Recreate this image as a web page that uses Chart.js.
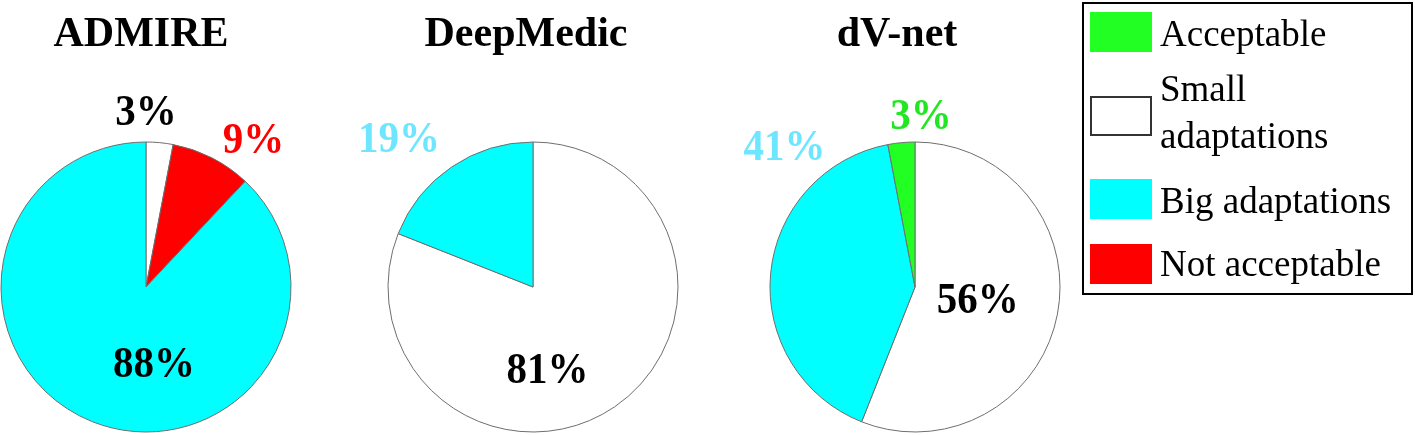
<!DOCTYPE html>
<html>
<head>
<meta charset="utf-8">
<script src="https://cdn.jsdelivr.net/npm/chart.js@4.4.1/dist/chart.umd.min.js"></script>
<style>
  html, body { margin: 0; padding: 0; background: #fff; }
  body { width: 1415px; height: 435px; position: relative; overflow: hidden; font-family: 'Liberation Serif', 'Times New Roman', serif; }
  .panel { position: absolute; top: 0; height: 435px; }
  .legend { position: absolute; left: 1082px; top: 2px; width: 327px; height: 289px; border: 2px solid #000; }
  .sw { position: absolute; left: 6px; width: 62px; height: 40px; }
  .lt { position: absolute; left: 76px; font-size: 37px; line-height: 37px; color: #000; white-space: nowrap; transform: scaleY(1.05); transform-origin: 0 0; }
</style>
</head>
<body>
<div class="panel" style="left:0;width:292px"><canvas id="chartAdmire"></canvas></div>
<div class="panel" style="left:353px;width:360px"><canvas id="chartDeepMedic"></canvas></div>
<div class="panel" style="left:735px;width:360px"><canvas id="chartDvNet"></canvas></div>
<div class="legend" id="legend"></div>

<script>
// Categorias (ordem horária a partir do topo)
const categories = ['Small adaptations', 'Not acceptable', 'Big adaptations', 'Acceptable'];
const legendOrder = ['Acceptable', 'Small adaptations', 'Big adaptations', 'Not acceptable'];
const legendLines = { 'Small adaptations': ['Small', 'adaptations'] };

const titles = ['ADMIRE', 'DeepMedic', 'dV-net'];
const admireValues = [3, 9, 88, 0];
const deepMedicValues = [81, 0, 19, 0];
const dvNetValues = [56, 0, 41, 3];

const sliceColors = ['#ffffff', '#ff0000', '#00ffff', '#22ff22'];
const LABEL_CYAN = '#6fe6ff';
const SERIF = "'Liberation Serif', 'Times New Roman', serif";

// Posição dos rótulos: [ângulo em graus a partir do topo, fração do raio, cor]
const labelPlacement = {
  ADMIRE:    [[0, 1.21, '#000'], [36, 1.26, '#ff0000'], [174, 0.53, '#000'], null],
  DeepMedic: [[170, 0.58, '#000'], null, [318, 1.38, LABEL_CYAN], null],
  'dV-net':  [[101, 0.44, '#000'], null, [317, 1.32, LABEL_CYAN], [2, 1.18, '#22e622']]
};
const titleShift = { ADMIRE: -5, DeepMedic: -7, 'dV-net': -18 };

const pieText = {
  id: 'pieText',
  afterDatasetsDraw(chart) {
    const name = chart.options.plugins.pieText.name;
    const meta = chart.getDatasetMeta(0);
    const values = chart.data.datasets[0].data;
    const ctx = chart.ctx;
    const first = meta.data[0].getProps(['x', 'y', 'outerRadius'], true);
    ctx.save();
    ctx.textAlign = 'center';

    // título
    ctx.fillStyle = '#000';
    ctx.textBaseline = 'alphabetic';
    ctx.font = `bold 42px ${SERIF}`;
    ctx.fillText(name, first.x + titleShift[name], 46);

    // percentuais (levemente esticados na vertical, como no original)
    ctx.textBaseline = 'middle';
    ctx.font = `bold 41px ${SERIF}`;
    meta.data.forEach((arc, i) => {
      const p = labelPlacement[name][i];
      if (!p || !values[i]) return;
      const { x, y, outerRadius } = arc.getProps(['x', 'y', 'outerRadius'], true);
      const a = p[0] * Math.PI / 180;
      ctx.save();
      ctx.translate(x + p[1] * outerRadius * Math.sin(a), y - p[1] * outerRadius * Math.cos(a) + 2);
      ctx.scale(1, 1.08);
      ctx.fillStyle = p[2];
      ctx.fillText(values[i] + '%', 0, 0);
      ctx.restore();
    });
    ctx.restore();
  }
};

function criarPizza(id, name, values) {
  return new Chart(document.getElementById(id), {
    type: 'pie',
    data: {
      labels: categories,
      datasets: [{
        data: values,
        backgroundColor: sliceColors,
        borderColor: '#6e6e6e',
        borderWidth: 1
      }]
    },
    options: {
      responsive: true,
      maintainAspectRatio: false,
      animation: false,
      radius: 145,
      layout: { padding: { top: 140, bottom: 1, left: 0, right: 0 } },
      plugins: {
        legend: { display: false },
        tooltip: { enabled: false },
        pieText: { name }
      }
    },
    plugins: [pieText]
  });
}

criarPizza('chartAdmire', titles[0], admireValues);
criarPizza('chartDeepMedic', titles[1], deepMedicValues);
criarPizza('chartDvNet', titles[2], dvNetValues);

// Legenda
const legendTops = [8, 92, 175, 240];
const legendTextTops = [9, 60, 176, 239];
const legend = document.getElementById('legend');
legendOrder.forEach((cat, i) => {
  const color = sliceColors[categories.indexOf(cat)];
  const border = color === '#ffffff' ? 'border:2px solid #333;box-sizing:border-box;' : '';
  const lines = legendLines[cat] || [cat];
  legend.innerHTML += `<div class="sw" style="top:${legendTops[i]}px;background:${color};${border}"></div>`;
  legend.innerHTML += `<div class="lt" style="top:${legendTextTops[i]}px;line-height:${lines.length > 1 ? 45 : 37}px">${lines.join('<br>')}</div>`;
});
</script>
</body>
</html>
